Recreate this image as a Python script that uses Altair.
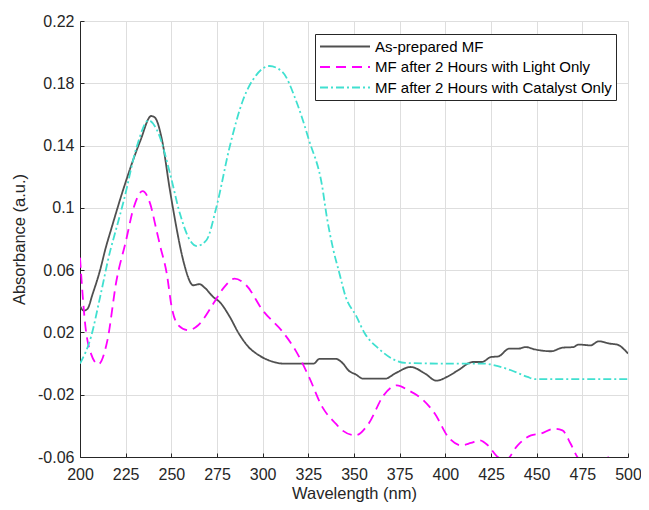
import altair as alt
import pandas as pd

series_names = ["As-prepared MF", "MF after 2 Hours with Light Only", "MF after 2 Hours with Catalyst Only"]
series_colors = ["#505050", "#ff00ff", "#40e0d0"]
series_dashes = [[1, 0], [10, 6], [8, 3, 2, 3]]

x_ticks = [200, 225, 250, 275, 300, 325, 350, 375, 400, 425, 450, 475, 500]
y_ticks = [-0.06, -0.02, 0.02, 0.06, 0.1, 0.14, 0.18, 0.22]

asprep_x = [200, 202, 204, 207, 211, 214, 217, 224, 233, 239, 241, 245, 249, 253, 255, 257, 262, 265.5, 268,
            273, 276.5, 282, 287, 292, 298, 305, 311, 320, 328, 331, 340, 344, 347, 351, 355, 367, 373, 381,
            389, 395, 401, 407, 415, 420, 425, 429, 435, 440, 444, 449, 458, 464, 470, 473, 479.5, 484, 490,
            494, 500]
asprep_y = [0.037, 0.034, 0.035, 0.045, 0.060, 0.074, 0.086, 0.113, 0.143, 0.159, 0.158, 0.143, 0.113,
            0.086, 0.074, 0.064, 0.0503, 0.051, 0.049, 0.0427, 0.0395, 0.030, 0.0192, 0.011, 0.0053, 0.0014,
            0.0, 0.0, 0.0, 0.003, 0.003, 0.0, -0.0044, -0.007, -0.0097, -0.0097, -0.006, -0.0022, -0.0065,
            -0.011, -0.0085, -0.0043, 0.001, 0.001, 0.0042, 0.0046, 0.0096, 0.0096, 0.0106, 0.0091, 0.0079,
            0.0102, 0.0106, 0.0122, 0.0117, 0.0143, 0.0128, 0.0122, 0.0064]

light_x = [200, 203, 206, 210, 215, 220, 225, 229.5, 234.3, 238.4, 242, 244, 247.5, 250.2, 253.8, 259.3,
           264.7, 273, 278.3, 284.6, 291, 300, 311, 318, 325.4, 332.7, 340, 343.6, 350.8, 358, 366.2, 373.5,
           379.8, 387, 394.3, 401.6, 408.8, 414, 418.8, 423.3, 428.7, 433, 439.6, 446.9, 452.3, 459.6, 464.1,
           468.6, 472.3, 480, 488, 490, 495, 500]
light_y = [0.068, 0.0235, 0.0064, -0.0005, 0.0149, 0.0535, 0.078, 0.1006, 0.1108, 0.1027, 0.085, 0.075,
           0.0578, 0.0363, 0.0246, 0.0214, 0.0246, 0.0385, 0.0481, 0.0545, 0.0503, 0.0342, 0.0203, 0.0085,
           -0.0087, -0.028, -0.0386, -0.0429, -0.0461, -0.0386, -0.0204, -0.014, -0.0172, -0.0225, -0.0322,
           -0.0472, -0.0525, -0.051, -0.0493, -0.0525, -0.06, -0.062, -0.0525, -0.0461, -0.045, -0.0418,
           -0.0429, -0.0515, -0.06, -0.066, -0.061, -0.0600, -0.061, -0.0598]

cat_x = [200, 206, 211, 216.6, 219, 224, 231, 237.5, 243, 249.3, 254.7, 260.2, 263.8, 269.2, 274.7, 281.9,
         289.2, 296.4, 303.7, 310.9, 318.2, 325.4, 332.7, 335, 338.5, 342, 345.4, 351, 356, 363.5, 370.8, 378,
         400, 421, 427, 436, 445, 449, 475, 500]
cat_y = [0.0, 0.017, 0.0427, 0.0727, 0.083, 0.1048, 0.139, 0.1562, 0.1477, 0.122, 0.0963, 0.0792, 0.0755,
         0.0792, 0.1006, 0.139, 0.1691, 0.1851, 0.1911, 0.1872, 0.1691, 0.1434, 0.113, 0.095, 0.074, 0.058,
         0.043, 0.031, 0.0192, 0.0096, 0.0032, 0.0004, 0.0, 0.0, -0.0011, -0.0043, -0.0086, -0.01, -0.01, -0.01]

rows = []
for name, xs, ys in zip(series_names, [asprep_x, light_x, cat_x], [asprep_y, light_y, cat_y]):
    for xv, yv in zip(xs, ys):
        rows.append({"wavelength": xv, "absorbance": yv, "series": name})
df = pd.DataFrame(rows)

FONT = "Liberation Sans"
TXT = "#262626"
W, H = 548, 436

legend_cfg = dict(
    title=None, orient="none", legendX=235, legendY=13,
    symbolType="stroke", symbolSize=2500, symbolStrokeWidth=2, clipHeight=17,
    labelFontSize=15, labelFont=FONT, labelColor="#000000", labelLimit=400, labelOffset=4,
    fillColor="white", strokeColor="#262626", padding=4, rowPadding=3.5,
)

xscale = alt.Scale(domain=[200, 500], nice=False, zero=False)
yscale = alt.Scale(domain=[-0.06, 0.22], nice=False, zero=False)

lines = alt.Chart(df).mark_line(clip=True, interpolate="monotone", strokeWidth=1.8).encode(
    x=alt.X("wavelength:Q", scale=xscale,
            axis=alt.Axis(values=x_ticks, title="Wavelength (nm)", labelFontSize=16, labelFont=FONT,
                          labelColor=TXT, labelPadding=9, labelFlush=False, ticks=False,
                          titleFontSize=16.5, titleFont=FONT,
                          titleColor=TXT, titleFontWeight="normal", titleX=W / 2, titleY=36,
                          titleBaseline="middle", domainColor=TXT, gridColor="#dedede")),
    y=alt.Y("absorbance:Q", scale=yscale,
            axis=alt.Axis(values=y_ticks, labelExpr="'' + datum.value", title="Absorbance (a.u.)",
                          labelFontSize=16, labelFont=FONT, labelColor=TXT, labelPadding=6, labelFlush=False,
                          ticks=False,
                          titleFontSize=16.5, titleFont=FONT, titleColor=TXT, titleFontWeight="normal",
                          titleX=-61, titleY=H / 2, titleAngle=270, titleAlign="center",
                          titleBaseline="middle", domainColor=TXT, gridColor="#dedede")),
    color=alt.Color("series:N", scale=alt.Scale(domain=series_names, range=series_colors),
                    legend=alt.Legend(**legend_cfg)),
    strokeDash=alt.StrokeDash("series:N", scale=alt.Scale(domain=series_names, range=series_dashes),
                              legend=alt.Legend(**legend_cfg)),
)

# inward tick marks: mirrored axes moved onto the plot edges
ticks_layer = alt.Chart(df).mark_line(opacity=0).encode(
    x=alt.X("wavelength:Q", scale=xscale,
            axis=alt.Axis(orient="top", offset=-H, values=x_ticks, labels=False, domain=False, grid=False,
                          title=None, ticks=True, tickSize=4, tickColor=TXT, tickWidth=1)),
    y=alt.Y("absorbance:Q", scale=yscale,
            axis=alt.Axis(orient="right", offset=-W, values=y_ticks, labels=False, domain=False, grid=False,
                          title=None, ticks=True, tickSize=4, tickColor=TXT, tickWidth=1)),
    detail="series:N",
)

chart = alt.layer(lines, ticks_layer).resolve_axis(x="independent", y="independent").properties(
    width=W, height=H,
    autosize=alt.AutoSizeParams(type="none"),
    padding={"left": 72, "top": 13, "right": 13, "bottom": 45},
).configure_view(stroke=None).configure(background="white")

chart.save("out.html", embed_options={"renderer": "svg", "actions": False})
